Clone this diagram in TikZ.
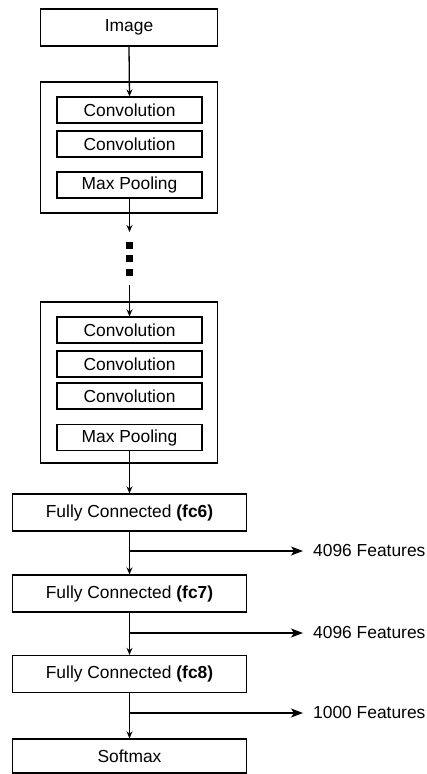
\documentclass[tikz,border=0pt]{standalone}
\usepackage{fontspec}
\setmainfont{Liberation Sans}
\usetikzlibrary{arrows.meta}
\begin{document}
\begin{tikzpicture}[x=1pt,y=-1pt,
  every node/.style={font=\fontsize{17.4}{20}\selectfont},
  layer/.style={draw, line width=1.3pt, minimum width=145pt, minimum height=26pt, inner sep=0pt},
  stage/.style={draw, line width=1.3pt, minimum width=177pt, inner sep=0pt},
  fcbox/.style={draw, line width=1.3pt, minimum width=234pt, minimum height=37pt, inner sep=0pt},
  dotbox/.style={fill=black, minimum size=7pt, inner sep=0pt},
  feat/.style={anchor=west, inner sep=0pt},
  flow/.style={line width=1.3pt, -{Stealth[length=7pt,width=6pt]}},
  side/.style={line width=1.3pt, -{Stealth[length=12pt,width=9pt,inset=3pt]}, shorten >=10pt}]
\useasboundingbox (0,0) rectangle (427,774);

% input
\node[stage, minimum height=37pt] (img) at (129,27.5) {Image};

% first convolutional stage
\node[stage, minimum height=131pt] (blk1) at (129,147.5) {};
\node[layer] (c11) at (129.5,110) {Convolution};
\node[layer] (c12) at (129.5,144) {Convolution};
\node[layer] (mp1) at (129.5,185) {Max Pooling};

% repeated stages omitted
\coordinate (gapA) at (129.5,232);
\node[dotbox] (d1) at (129,245) {};
\node[dotbox] (d2) at (129,258.5) {};
\node[dotbox] (d3) at (129,272) {};
\coordinate (gapB) at (129.5,285);

% last convolutional stage
\node[stage, minimum height=161pt] (blk2) at (129,382.5) {};
\node[layer] (c21) at (129.5,330) {Convolution};
\node[layer] (c22) at (129.5,364) {Convolution};
\node[layer] (c23) at (129.5,396) {Convolution};
\node[layer] (mp2) at (129.5,437.5) {Max Pooling};

% fully connected layers
\node[fcbox] (fc6) at (129.5,512.5) {Fully Connected \textbf{(fc6)}};
\node[fcbox] (fc7) at (129.5,593.5) {Fully Connected \textbf{(fc7)}};
\node[fcbox] (fc8) at (129.5,674) {Fully Connected \textbf{(fc8)}};
\node[fcbox, minimum height=34pt] (soft) at (129.5,756) {Softmax};

% feature outputs
\coordinate (b6) at (129.5,551);
\coordinate (b7) at (129.5,633);
\coordinate (b8) at (129.5,713);
\node[feat] (f6) at (313,551) {4096 Features};
\node[feat] (f7) at (313,633) {4096 Features};
\node[feat] (f8) at (313,713) {1000 Features};

% main flow
\draw[flow] (img.south) -- (c11.north);
\draw[flow] (mp1.south) -- (gapA);
\draw[flow] (gapB) -- (c21.north);
\draw[flow] (mp2.south) -- (fc6.north);
\draw[flow] (fc6.south) -- (fc7.north);
\draw[flow] (fc7.south) -- (fc8.north);
\draw[flow] (fc8.south) -- (soft.north);

% side branches
\draw[side] (b6) -- (f6.west);
\draw[side] (b7) -- (f7.west);
\draw[side] (b8) -- (f8.west);
\end{tikzpicture}
\end{document}
